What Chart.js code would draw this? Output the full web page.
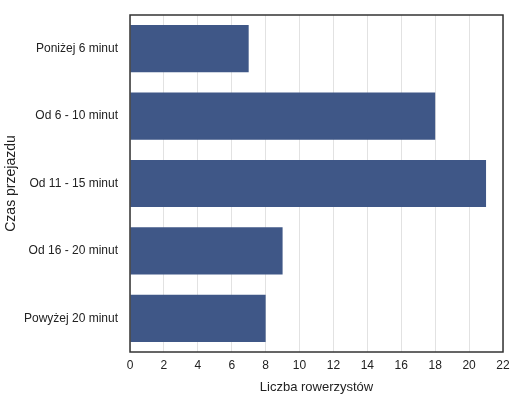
<!DOCTYPE html>
<html>
<head>
<meta charset="utf-8">
<script src="https://cdn.jsdelivr.net/npm/chart.js@4"></script>
<style>
    html, body { margin: 0; padding: 0; background: #fff; }
    #wrap { width: 511px; height: 395px; }
</style>
</head>
<body>
<div id="wrap"><canvas id="ride-chart"></canvas></div>
<script>
// dane z wykresu
const categories = ['Poniżej 6 minut', 'Od 6 - 10 minut', 'Od 11 - 15 minut', 'Od 16 - 20 minut', 'Powyżej 20 minut'];
const riders = [7, 18, 21, 9, 8];
const xTicks = [0, 2, 4, 6, 8, 10, 12, 14, 16, 18, 20, 22];

const barColor = '#3f5787';
const textColor = '#222';

// ramka wokol obszaru wykresu
const frame = {
    id: 'frame',
    afterDatasetsDraw(chart) {
        const { ctx, chartArea: a } = chart;
        ctx.save();
        ctx.strokeStyle = '#333';
        ctx.lineWidth = 1.5;
        ctx.strokeRect(a.left, a.top, a.right - a.left, a.bottom - a.top);
        ctx.restore();
    },
};

new Chart(document.getElementById('ride-chart'), {
    type: 'bar',
    data: {
        labels: categories,
        datasets: [
            {
                label: 'Liczba rowerzystów',
                data: riders,
                backgroundColor: barColor,
                barPercentage: 0.7,
                categoryPercentage: 1,
            },
        ],
    },
    options: {
        indexAxis: 'y',
        responsive: true,
        maintainAspectRatio: false,
        animation: false,
        layout: { padding: { left: 0, top: 15, right: 8, bottom: 0 } },
        plugins: {
            legend: { display: false },
            tooltip: { enabled: false },
        },
        scales: {
            x: {
                min: 0,
                max: 22,
                afterBuildTicks: (scale) => {
                    scale.ticks = xTicks.map((v) => ({ value: v }));
                },
                afterFit: (scale) => {
                    scale.height = 43;
                    scale.paddingLeft = 0;
                    scale.paddingRight = 0;
                },
                grid: { color: '#e2e2e2', drawTicks: false },
                border: { display: false },
                ticks: { color: textColor, font: { family: 'Liberation Sans', size: 12 }, padding: 6, maxRotation: 0 },
                title: {
                    display: true,
                    text: 'Liczba rowerzystów',
                    color: textColor,
                    font: { family: 'Liberation Sans', size: 13 },
                    padding: { top: 2, bottom: 0 },
                },
            },
            y: {
                afterFit: (scale) => {
                    scale.width = 130;
                    scale.paddingTop = 0;
                    scale.paddingBottom = 0;
                },
                grid: { display: false, drawTicks: false },
                border: { display: false },
                ticks: { color: textColor, font: { family: 'Liberation Sans', size: 12 }, padding: 12 },
                title: {
                    display: true,
                    text: 'Czas przejazdu',
                    color: textColor,
                    font: { family: 'Liberation Sans', size: 14 },
                    padding: { top: 3, bottom: 0 },
                },
            },
        },
    },
    plugins: [frame],
});
</script>
</body>
</html>
